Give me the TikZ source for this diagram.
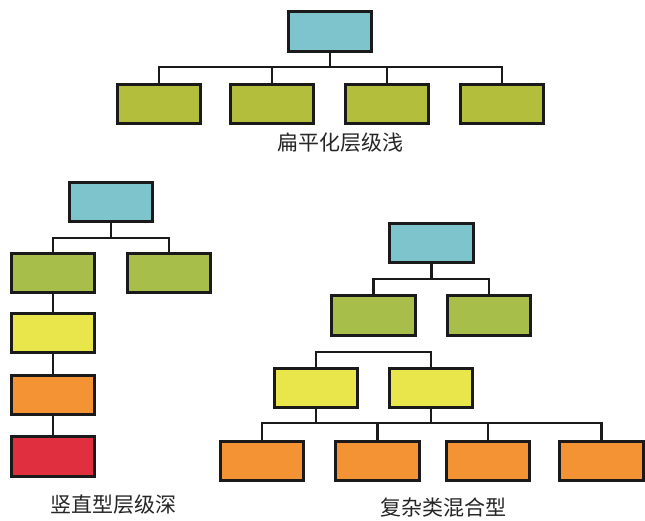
\documentclass[tikz,border=0pt]{standalone}
\usepackage{fontspec}
\newfontfamily\cjk{Noto Sans CJK SC}
\definecolor{cblue}{HTML}{7EC4CC}
\definecolor{cgreen}{HTML}{B3BE3C}
\definecolor{cgreenb}{HTML}{A8BE4A}
\definecolor{cyellow}{HTML}{E8E64A}
\definecolor{corange}{HTML}{F39334}
\definecolor{cred}{HTML}{E03040}
\definecolor{cline}{HTML}{1A1A1A}
\begin{document}
\begin{tikzpicture}[x=1pt,y=-1pt,
  box/.style={draw=cline, line width=3pt, minimum width=83.5pt, minimum height=39.5pt, inner sep=0pt},
  conn/.style={draw=cline, line width=2.6pt, line cap=rect},
  lbl/.style={font=\cjk\fontsize{21}{24}\selectfont, text=black!85}]
\useasboundingbox[fill=white] (0,0) rectangle (645,520);
\coordinate (ba) at (0,67);
\coordinate (bb) at (0,238);
\coordinate (bc) at (0,279);
\coordinate (bd) at (0,352);
\coordinate (be) at (0,423);
% flat
\node[box, fill=cblue] (t0) at (330,31.5) {};
\node[box, fill=cgreen] (t1) at (159,104) {};
\node[box, fill=cgreen] (t2) at (272,104) {};
\node[box, fill=cgreen] (t3) at (387,104) {};
\node[box, fill=cgreen] (t4) at (502,104) {};
\draw[conn] (t0.south) -- (t0.south|-ba);
\draw[conn] (t1.north) -- (t1.north|-ba) -- (t4.north|-ba) -- (t4.north);
\draw[conn] (t2.north) -- (t2.north|-ba);
\draw[conn] (t3.north) -- (t3.north|-ba);
\node[lbl] (l1) at (340,143) {扁平化层级浅};
% vertical
\node[box, fill=cblue] (v0) at (111,202) {};
\node[box, fill=cgreenb] (v1) at (53,273) {};
\node[box, fill=cgreenb] (v2) at (169,273) {};
\node[box, fill=cyellow] (v3) at (53,333) {};
\node[box, fill=corange] (v4) at (53,395) {};
\node[box, fill=cred] (v5) at (53,456.5) {};
\draw[conn] (v0.south) -- (v0.south|-bb);
\draw[conn] (v1.north) -- (v1.north|-bb) -- (v2.north|-bb) -- (v2.north);
\draw[conn] (v1.south) -- (v3.north);
\draw[conn] (v3.south) -- (v4.north);
\draw[conn] (v4.south) -- (v5.north);
\node[lbl] (l2) at (113,505) {竖直型层级深};
% complex
\node[box, fill=cblue] (c0) at (431.5,243) {};
\node[box, fill=cgreenb] (c1) at (373.5,315.5) {};
\node[box, fill=cgreenb] (c2) at (489,315.5) {};
\node[box, fill=cyellow] (c3) at (316,388) {};
\node[box, fill=cyellow] (c4) at (431,388) {};
\node[box, fill=corange] (c5) at (262,461) {};
\node[box, fill=corange] (c6) at (377.5,461) {};
\node[box, fill=corange] (c7) at (488,461) {};
\node[box, fill=corange] (c8) at (601.5,461) {};
\draw[conn] (c0.south) -- (c0.south|-bc);
\draw[conn] (c1.north) -- (c1.north|-bc) -- (c2.north|-bc) -- (c2.north);
\draw[conn] (c3.north) -- (c3.north|-bd) -- (c4.north|-bd) -- (c4.north);
\draw[conn] (c3.south) -- (c3.south|-be);
\draw[conn] (c4.south) -- (c4.south|-be);
\draw[conn] (c5.north) -- (c5.north|-be) -- (c8.north|-be) -- (c8.north);
\draw[conn] (c6.north) -- (c6.north|-be);
\draw[conn] (c7.north) -- (c7.north|-be);
\node[lbl] (l3) at (443,508) {复杂类混合型};
\end{tikzpicture}
\end{document}
